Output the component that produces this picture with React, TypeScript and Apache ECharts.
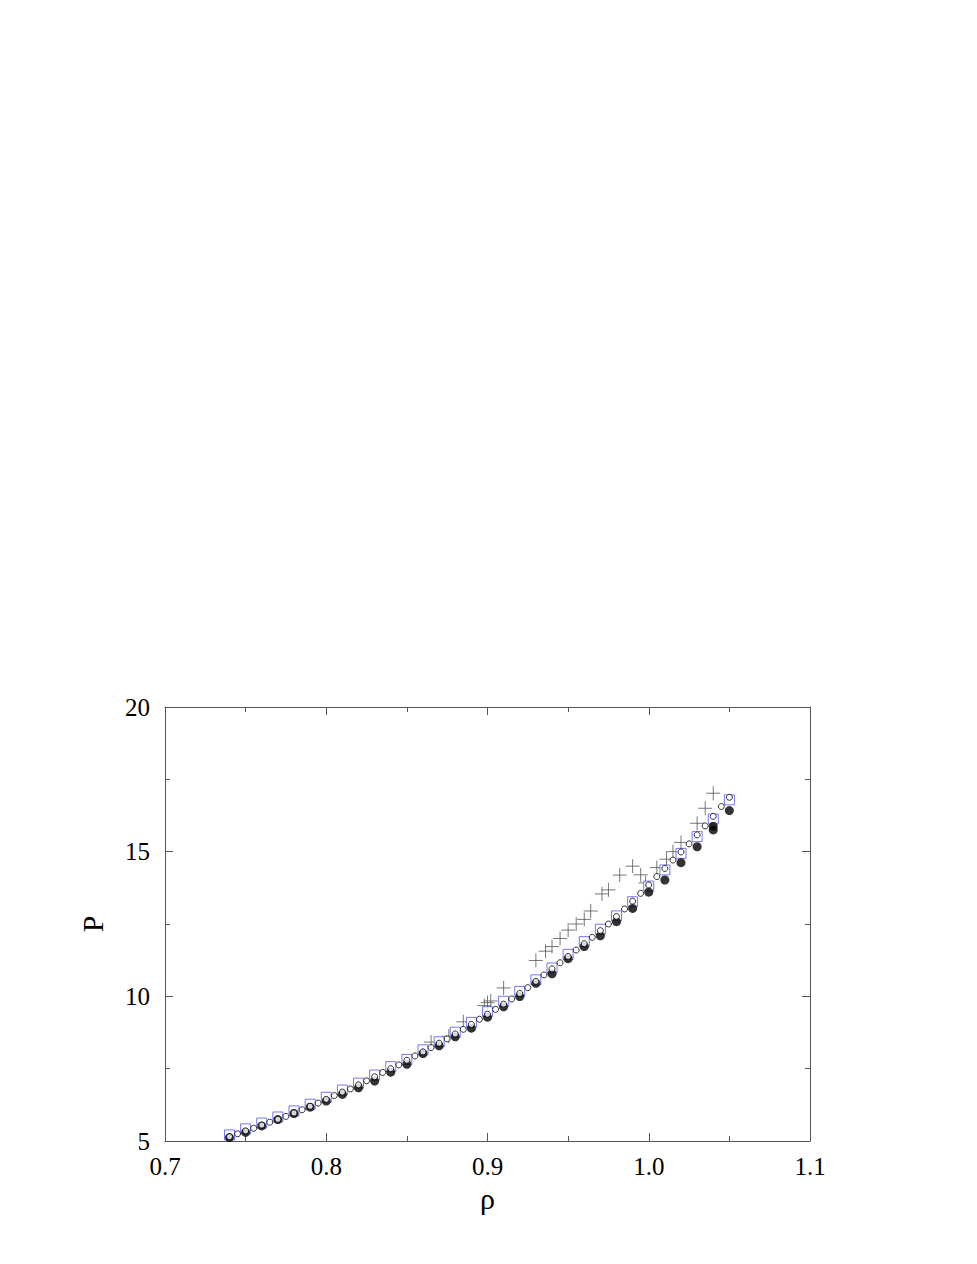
import React, { useEffect, useRef } from "react";
import * as echarts from "echarts";

// x positions of the integer-step series
const rhoMain = [0.74, 0.75, 0.76, 0.77, 0.78, 0.79, 0.8, 0.81, 0.82, 0.83, 0.84, 0.85, 0.86, 0.87, 0.88, 0.89, 0.9, 0.91, 0.92, 0.93, 0.94, 0.95, 0.96, 0.97, 0.98, 0.99, 1.0, 1.01, 1.02, 1.03, 1.04, 1.05];
// filled black circles
const pFilled = [5.12, 5.3, 5.52, 5.74, 5.95, 6.17, 6.38, 6.61, 6.84, 7.07, 7.38, 7.65, 8.02, 8.29, 8.6, 8.9, 9.28, 9.64, 9.99, 10.45, 10.78, 11.3, 11.72, 12.09, 12.58, 13.04, 13.6, 14.02, 14.62, 15.17, 15.75, 16.42];
const rhoFilledExtra = [1.04];
const pFilledExtra = [15.88];
// blue open squares
const pSquare = [5.21, 5.42, 5.62, 5.83, 6.04, 6.27, 6.51, 6.76, 7.0, 7.28, 7.57, 7.82, 8.15, 8.43, 8.76, 9.1, 9.47, 9.83, 10.17, 10.57, 10.98, 11.45, 11.89, 12.32, 12.78, 13.27, 13.81, 14.37, 14.94, 15.52, 16.13, 16.79];
// small open circles at integer steps (inside squares)
const pOpenMain = [5.15, 5.35, 5.55, 5.75, 5.97, 6.2, 6.44, 6.69, 6.94, 7.22, 7.5, 7.79, 8.08, 8.38, 8.7, 9.03, 9.38, 9.73, 10.1, 10.52, 10.95, 11.38, 11.82, 12.27, 12.76, 13.29, 13.85, 14.42, 14.99, 15.58, 16.22, 16.88];
// small open circles at half steps
const rhoHalf = [0.745, 0.755, 0.765, 0.775, 0.785, 0.795, 0.805, 0.815, 0.825, 0.835, 0.845, 0.855, 0.865, 0.875, 0.885, 0.895, 0.905, 0.915, 0.925, 0.935, 0.945, 0.955, 0.965, 0.975, 0.985, 0.995, 1.005, 1.015, 1.025, 1.035, 1.045];
const pOpenHalf = [5.25, 5.44, 5.65, 5.85, 6.08, 6.31, 6.57, 6.8, 7.08, 7.37, 7.63, 7.94, 8.23, 8.53, 8.86, 9.21, 9.55, 9.91, 10.3, 10.74, 11.16, 11.6, 12.04, 12.5, 13.02, 13.56, 14.14, 14.71, 15.27, 15.89, 16.56];
// gray plus signs
const rhoPlus = [0.865, 0.876, 0.885, 0.898, 0.9, 0.902, 0.91, 0.93, 0.936, 0.94, 0.945, 0.95, 0.955, 0.96, 0.964, 0.971, 0.975, 0.982, 0.99, 0.995, 0.998, 1.005, 1.011, 1.015, 1.02, 1.03, 1.035, 1.04];
const pPlus = [8.42, 8.62, 9.12, 9.68, 9.78, 9.84, 10.29, 11.24, 11.56, 11.72, 12.0, 12.29, 12.5, 12.66, 12.95, 13.54, 13.68, 14.19, 14.5, 14.2, 13.92, 14.45, 14.74, 15.0, 15.32, 15.98, 16.5, 17.02];

const xTicks = ["0.7", "0.8", "0.9", "1.0", "1.1"];

const PLUS = "path://M0,5 L10,5 M5,0 L5,10";

const zip = (xs: number[], ys: number[]) => xs.map((x, i) => [x, ys[i]]);

export default function App() {
  const ref = useRef<HTMLDivElement>(null);
  useEffect(() => {
    if (!ref.current) return;
    const chart = echarts.init(ref.current, null, { renderer: "svg" });
    const font = "Liberation Serif";
    const axisColor = "#555";
    const commonX = {
      type: "value" as const,
      min: 0.7,
      max: 1.1,
      interval: 0.1,
      splitLine: { show: false },
      axisLine: { show: true, onZero: false, lineStyle: { color: axisColor, width: 1 } },
      axisTick: { show: true, inside: true, length: 8, lineStyle: { color: axisColor } },
      minorTick: { show: true, splitNumber: 2, length: 5, lineStyle: { color: axisColor } },
    };
    const commonY = {
      type: "value" as const,
      min: 5,
      max: 20,
      interval: 5,
      splitLine: { show: false },
      axisLine: { show: true, onZero: false, lineStyle: { color: axisColor, width: 1 } },
      axisTick: { show: true, inside: true, length: 8, lineStyle: { color: axisColor } },
      minorTick: { show: true, splitNumber: 2, length: 5, lineStyle: { color: axisColor } },
    };
    chart.setOption({
      animation: false,
      backgroundColor: "#fff",
      grid: { left: 165, right: 167, top: 707, bottom: 123, containLabel: false },
      xAxis: [
        {
          ...commonX,
          position: "bottom",
          name: "ρ",
          nameLocation: "middle",
          nameGap: 42,
          nameTextStyle: { fontFamily: font, fontSize: 30, color: "#000" },
          axisLabel: {
            margin: 13,
            fontFamily: font,
            fontSize: 25,
            color: "#000",
            formatter: (v: number) => xTicks[Math.round((v - 0.7) * 10)] ?? "",
          },
        },
        { ...commonX, position: "top", axisLabel: { show: false } },
      ],
      yAxis: [
        {
          ...commonY,
          position: "left",
          name: "P",
          nameLocation: "middle",
          nameGap: 58,
          nameTextStyle: { fontFamily: font, fontSize: 30, color: "#000" },
          axisLabel: { margin: 15, fontFamily: font, fontSize: 25, color: "#000" },
        },
        { ...commonY, position: "right", axisLabel: { show: false } },
      ],
      series: [
        {
          type: "scatter",
          data: zip(rhoPlus, pPlus),
          symbol: PLUS,
          symbolSize: 14,
          itemStyle: { color: "none", borderColor: "#555", borderWidth: 1 },
          z: 1,
        },
        {
          type: "scatter",
          data: zip(rhoMain, pSquare),
          symbol: "rect",
          symbolSize: 10,
          itemStyle: { color: "#fff", borderColor: "#5555ee", borderWidth: 1 },
          z: 2,
        },
        {
          type: "scatter",
          data: zip(rhoMain, pFilled).concat(zip(rhoFilledExtra, pFilledExtra)),
          symbol: "circle",
          symbolSize: 9,
          itemStyle: { color: "#000", borderWidth: 0 },
          z: 3,
        },
        {
          type: "scatter",
          data: zip(rhoMain, pOpenMain).concat(zip(rhoHalf, pOpenHalf)),
          symbol: "circle",
          symbolSize: 6,
          itemStyle: { color: "#fff", borderColor: "#000", borderWidth: 1 },
          z: 4,
        },
      ],
    });
    return () => chart.dispose();
  }, []);
  return (
    <div
      ref={ref}
      style={{ position: "fixed", left: 0, top: 0, width: 977, height: 1264, background: "#fff" }}
    />
  );
}
